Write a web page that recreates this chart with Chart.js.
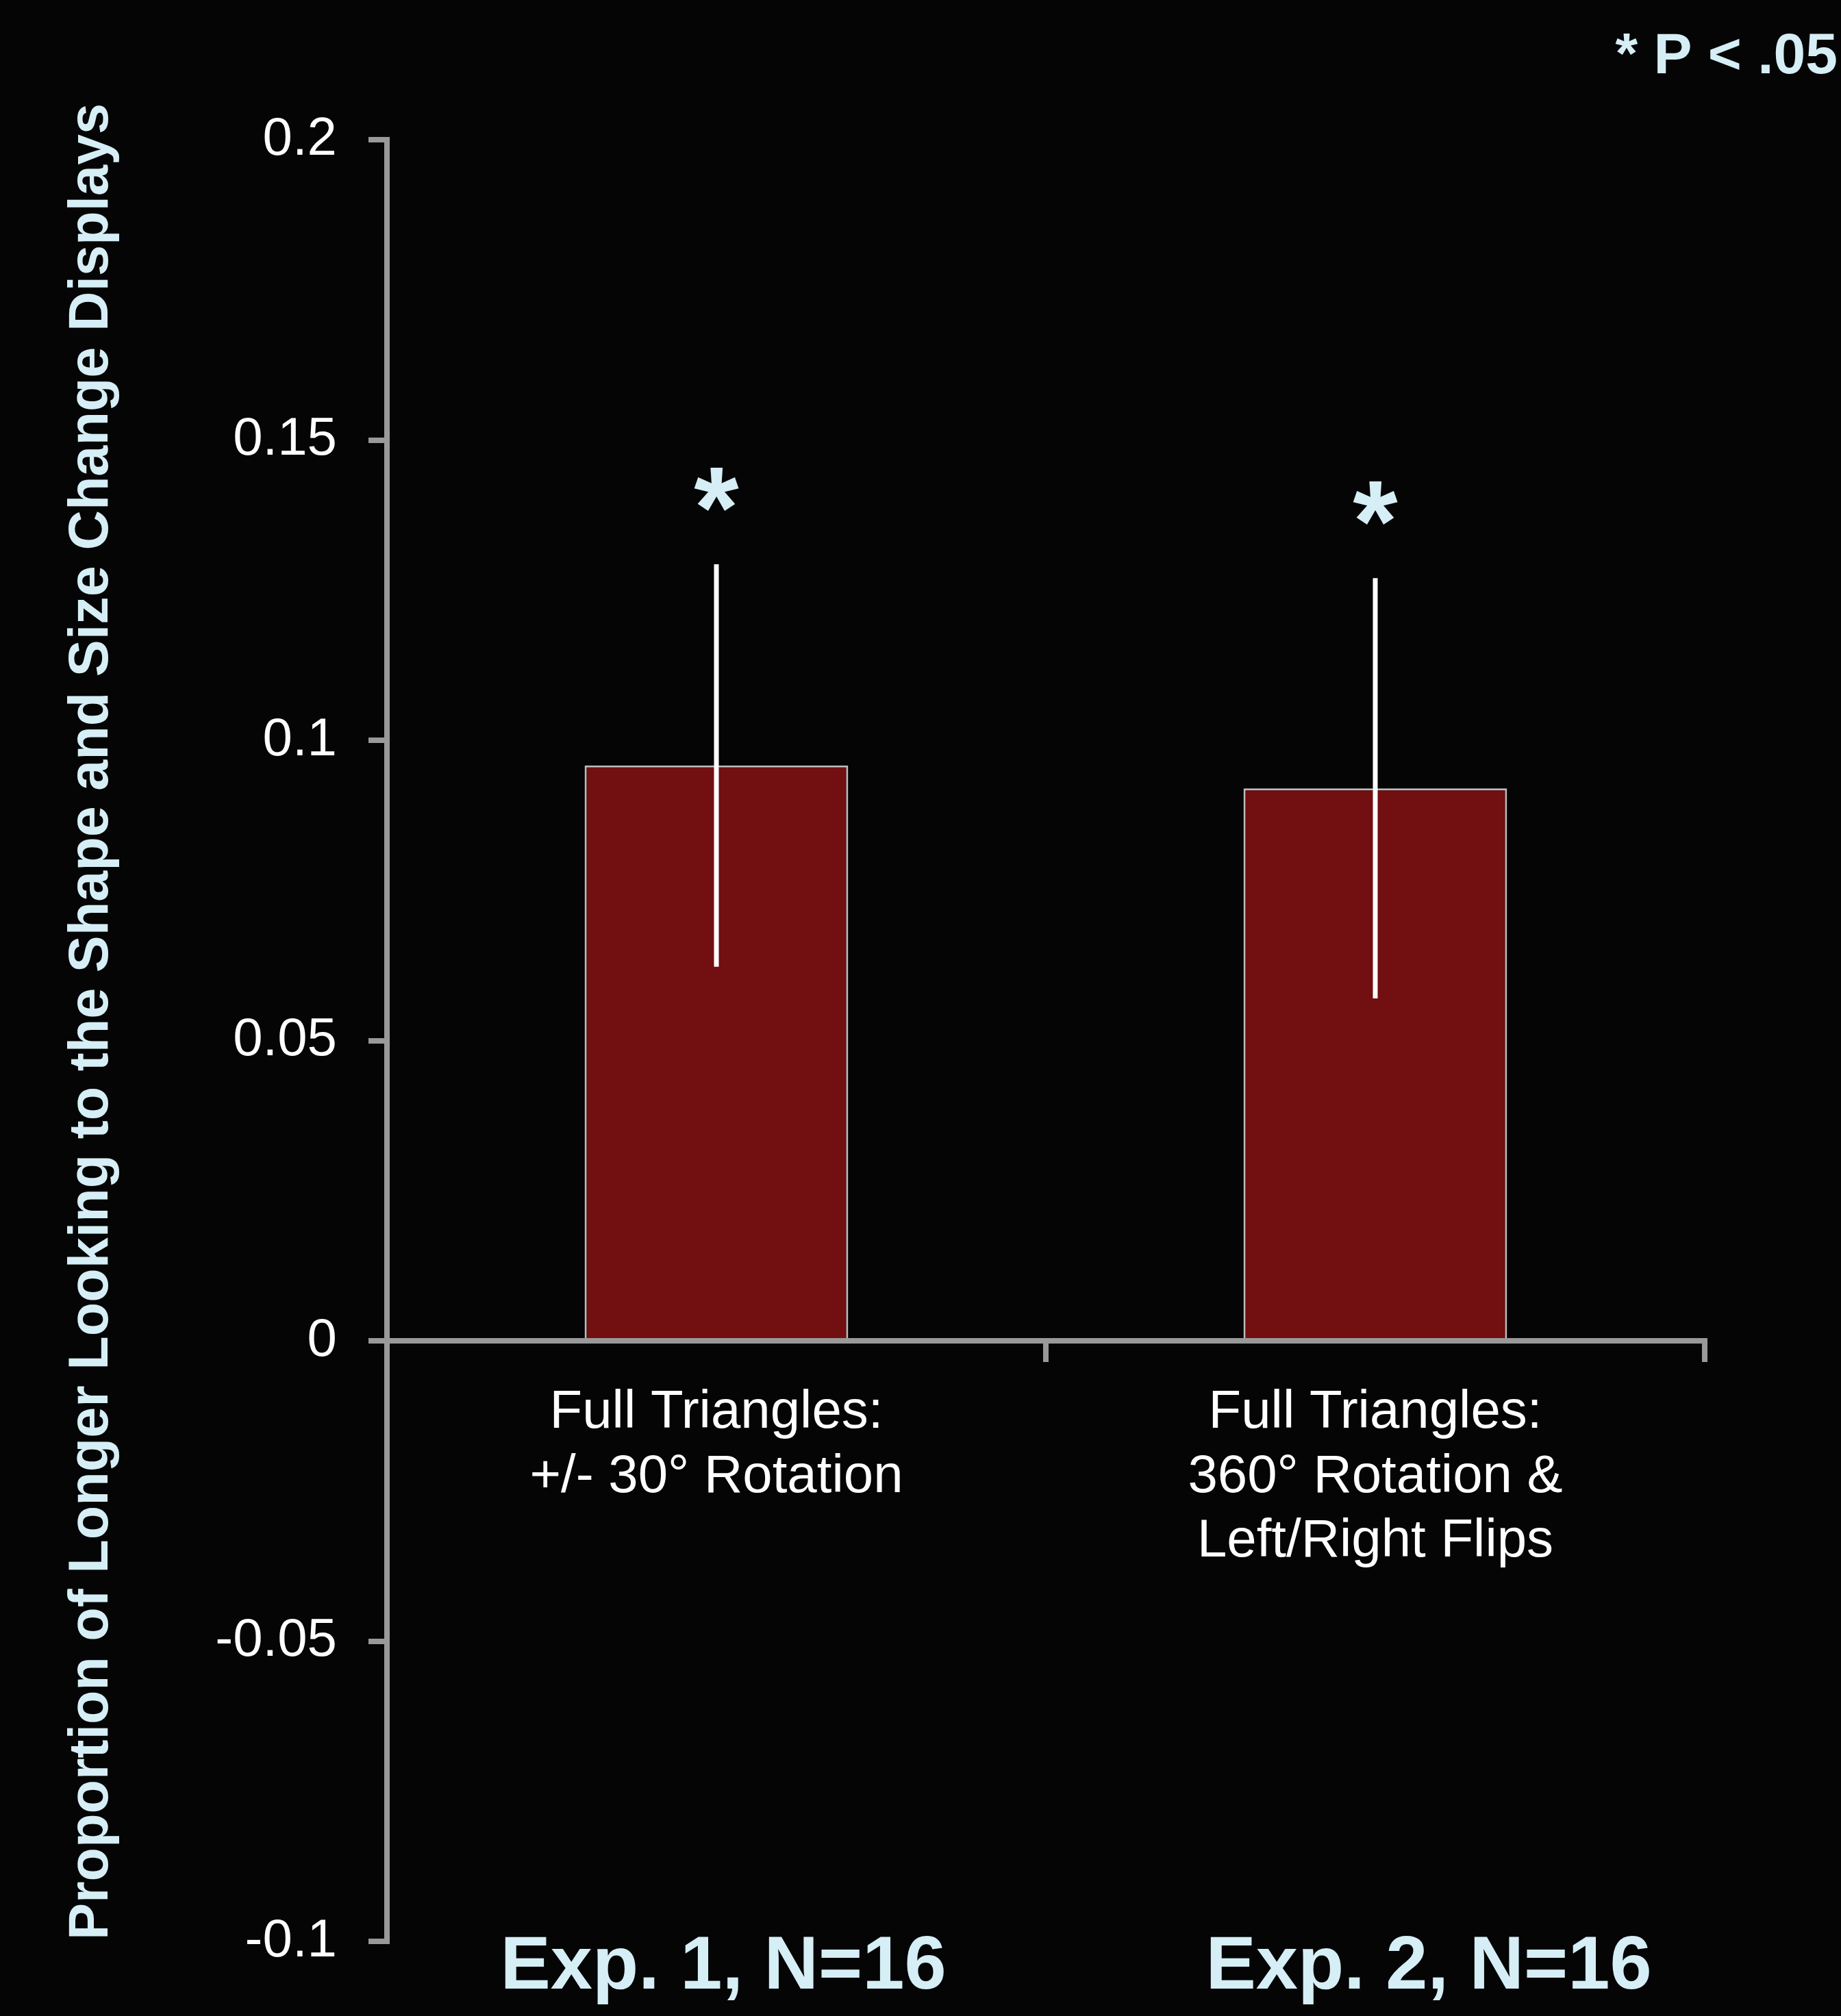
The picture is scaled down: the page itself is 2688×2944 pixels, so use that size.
<!DOCTYPE html>
<html>
<head>
<meta charset="utf-8">
<script src="https://cdn.jsdelivr.net/npm/chart.js@4.4.1/dist/chart.umd.min.js"></script>
<style>
  html, body { margin: 0; padding: 0; background: #050505; }
  canvas { display: block; }
</style>
</head>
<body>
<canvas id="chart" width="2688" height="2944"></canvas>
<script>
// Data
const categories = [
  ['Full Triangles:', '+/- 30° Rotation'],
  ['Full Triangles:', '360° Rotation &', 'Left/Right Flips']
];
const experiments = ['Exp. 1, N=16', 'Exp. 2, N=16'];
const proportions = [0.0958, 0.0920];
const errors = [0.0335, 0.0350];
const significant = [true, true];
const yTicks = [-0.1, -0.05, 0, 0.05, 0.1, 0.15, 0.2];
const yTickLabels = ['-0.1', '-0.05', '0', '0.05', '0.1', '0.15', '0.2'];
const yTitle = 'Proportion of Longer Looking to the Shape and Size Change Displays';

const FONT = '"Liberation Sans", Arial, sans-serif';
const LIGHT = '#d6eef5';
const AXIS = '#999999';

// --- Error bars, asterisks, labels, y title, p-value note ---
const extras = {
  id: 'extras',
  afterDatasetsDraw(chart) {
    const { ctx, scales: { x, y } } = chart;
    const meta = chart.getDatasetMeta(0);
    ctx.save();
    meta.data.forEach((bar, i) => {
      const top = y.getPixelForValue(proportions[i] + errors[i]);
      const bottom = y.getPixelForValue(proportions[i] - errors[i]);
      ctx.strokeStyle = '#ffffff';
      ctx.lineWidth = 7;
      ctx.beginPath();
      ctx.moveTo(bar.x, top);
      ctx.lineTo(bar.x, bottom);
      ctx.stroke();
      if (significant[i]) {
        ctx.fillStyle = LIGHT;
        ctx.font = 'bold 168px ' + FONT;
        ctx.textAlign = 'center';
        ctx.textBaseline = 'alphabetic';
        ctx.fillText('*', bar.x, top - 25);
      }
    });

    // experiment labels under each group
    const shift = [10, 78];
    ctx.fillStyle = LIGHT;
    ctx.font = 'bold 110px ' + FONT;
    ctx.textAlign = 'center';
    ctx.textBaseline = 'alphabetic';
    experiments.forEach((t, i) => {
      ctx.fillText(t, x.getPixelForValue(i) + shift[i], 2904);
    });

    // y axis title (rotated)
    ctx.save();
    ctx.translate(157, 1492);
    ctx.rotate(-Math.PI / 2);
    ctx.font = 'bold 81px ' + FONT;
    ctx.fillText(yTitle, 0, 0);
    ctx.restore();

    // significance note
    ctx.font = 'bold 84px ' + FONT;
    ctx.textAlign = 'right';
    ctx.fillText('* P < .05', 2683, 107);
    ctx.restore();
  }
};

const ctx = document.getElementById('chart').getContext('2d');
new Chart(ctx, {
  type: 'bar',
  data: {
    labels: categories,
    datasets: [{
      data: proportions,
      backgroundColor: '#720f11',
      borderColor: '#bdbdbd',
      borderWidth: 3,
      barPercentage: 0.4,
      categoryPercentage: 1
    }]
  },
  options: {
    responsive: false,
    animation: false,
    layout: { padding: { top: 204, right: 199, bottom: 109, left: 0 } },
    plugins: { legend: { display: false }, tooltip: { enabled: false } },
    scales: {
      x: {
        position: { y: 0 },
        offset: true,
        grid: { offset: true, drawOnChartArea: false, tickLength: 27, color: AXIS, lineWidth: 8 },
        border: { color: AXIS, width: 8 },
        ticks: {
          color: '#ffffff',
          padding: 32,
          maxRotation: 0,
          autoSkip: false,
          font: { family: FONT, size: 78, lineHeight: 1.2 }
        }
      },
      y: {
        min: -0.1,
        max: 0.2,
        afterFit: s => { s.width = 565; },
        afterBuildTicks: s => { s.ticks = yTicks.map(v => ({ value: v })); },
        grid: { drawOnChartArea: false, tickLength: 27, color: AXIS, lineWidth: 8 },
        border: { color: AXIS, width: 8 },
        ticks: {
          color: '#ffffff',
          padding: 46,
          font: { family: FONT, size: 78 },
          callback: (v, i) => yTickLabels[i]
        }
      }
    }
  },
  plugins: [extras]
});
</script>
</body>
</html>
